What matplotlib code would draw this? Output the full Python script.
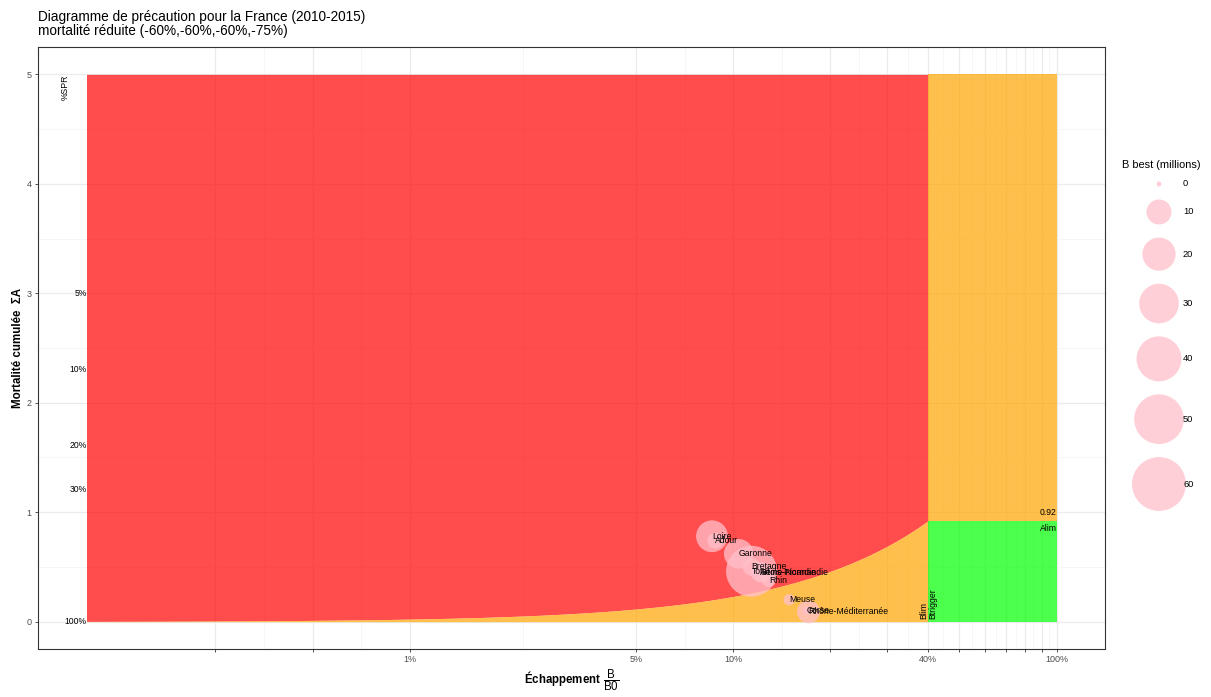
"""Diagramme de précaution (anguille) pour la France, 2010-2015."""

import matplotlib

matplotlib.use("Agg")
import matplotlib.pyplot as plt
import numpy as np
from matplotlib.ticker import NullFormatter

plt.rcParams["font.family"] = ["Liberation Sans", "DejaVu Sans"]
plt.rcParams["mathtext.fontset"] = "custom"
plt.rcParams["mathtext.rm"] = "Liberation Sans"
plt.rcParams["mathtext.bf"] = "Liberation Sans:bold"

# --- data -----------------------------------------------------------------
basins = ["Loire", "Adour", "Garonne", "Bretagne", "Total", "Artois-Picardie",
          "Seine-Normandie", "Rhin", "Meuse", "Corse", "Rhône-Méditerranée"]
escapement = [0.086, 0.088, 0.104, 0.114, 0.114, 0.121, 0.122, 0.129, 0.149, 0.169, 0.171]
mortality = [0.78, 0.74, 0.62, 0.50, 0.46, 0.45, 0.45, 0.38, 0.20, 0.10, 0.09]
b_best = [18, 3, 15, 4, 53, 3, 6, 2, 1, 0.3, 8]

spr_levels = [1.0, 0.3, 0.2, 0.1, 0.05]
spr_labels = ["100%", "30%", "20%", "10%", "5%"]

x_breaks = [0.0025, 0.005, 0.01, 0.05, 0.1, 0.2, 0.3, 0.4, 0.5, 0.6, 0.7, 0.8, 0.9, 1.0]
x_labels = ["", "", "1%", "5%", "10%", "", "", "40%", "", "", "", "", "", "100%"]
y_breaks = [0, 1, 2, 3, 4, 5]

legend_values = [0, 10, 20, 30, 40, 50, 60]

b_min = 0.001
blim = 0.4
btrigger = 0.4
alim = 0.92
a_max = 5.0


def diam_px(v):
    return 5 + 6.32 * np.sqrt(np.asarray(v, dtype=float))


def size_pt2(v):
    return (diam_px(v) * 0.72) ** 2


W, H = 1211, 697
fig = plt.figure(figsize=(W / 100, H / 100), dpi=100)
ax = fig.add_axes([38 / W, 48 / H, 1067 / W, 602 / H])

ax.set_xscale("log")
ax.set_xlim(10 ** -3.15, 10 ** 0.15)
ax.set_ylim(-0.25, 5.25)

# grid
minor_x = np.sqrt(np.array(x_breaks[:-1]) * np.array(x_breaks[1:]))
ax.set_xticks(x_breaks)
ax.set_xticklabels(x_labels)
ax.set_xticks(minor_x, minor=True)
ax.xaxis.set_minor_formatter(NullFormatter())
ax.set_yticks(y_breaks)
ax.set_yticks(np.array(y_breaks[:-1]) + 0.5, minor=True)
ax.grid(which="major", color="#EBEBEB", lw=0.9)
ax.grid(which="minor", color="#F3F3F3", lw=0.5)
ax.set_axisbelow(True)
ax.tick_params(which="minor", length=0)
ax.tick_params(which="major", length=2.5, width=0.6, color="#333333",
               labelsize=6.5, labelcolor="#4D4D4D", pad=2)
for sp in ax.spines.values():
    sp.set_color("#333333")
    sp.set_linewidth(0.8)

# zones
curve_x = np.geomspace(b_min, blim, 300)
curve_y = alim * curve_x / blim
ax.fill_between(curve_x, curve_y, a_max, color="red", alpha=0.7, lw=0)
ax.fill_between(curve_x, 0, curve_y, color="orange", alpha=0.7, lw=0)
ax.fill_between([blim, 1.0], alim, a_max, color="orange", alpha=0.7, lw=0)
ax.fill_between([blim, 1.0], 0, alim, color="lime", alpha=0.7, lw=0)

# reference labels
for p, lab in zip(spr_levels, spr_labels):
    ax.text(b_min, -np.log(p), lab, ha="right", va="center", fontsize=6.2)
ax.annotate("%SPR", (b_min, a_max), xytext=(-15, 0), textcoords="offset points",
            rotation=90, ha="center", va="top", fontsize=6.2)
ax.text(blim, 0.02, "Blim", rotation=90, ha="right", va="bottom", fontsize=6.2)
ax.text(btrigger, 0.02, "Btrigger", rotation=90, ha="left", va="bottom", fontsize=6.2)
ax.annotate("0.92", (1.0, alim), xytext=(0, 3), textcoords="offset points",
            ha="right", va="bottom", fontsize=6.2)
ax.annotate("Alim", (1.0, alim), xytext=(0, -2), textcoords="offset points",
            ha="right", va="top", fontsize=6.2)

# basins
ax.scatter(escapement, mortality, s=size_pt2(b_best), color="pink", alpha=0.75,
           lw=0, zorder=3)
for name, x, y in zip(basins, escapement, mortality):
    ax.text(x, y, name, ha="left", va="center", fontsize=6.2, zorder=4)

# titles
fig.text(38 / W, 1 - 10 / H,
         "Diagramme de précaution pour la France (2010-2015)\nmortalité réduite (-60%,-60%,-60%,-75%)",
         ha="left", va="top", fontsize=9.8, linespacing=1.0)
fig.text(18 / W, 1 - 348 / H, "Mortalité cumulée  ΣA", rotation=90,
         ha="center", va="center", fontsize=8.3, fontweight="bold")
fig.text(572 / W, 1 - 680 / H, r"$\mathbf{Échappement}\ \dfrac{\mathrm{B}}{\mathrm{B0}}$",
         ha="center", va="center", fontsize=8.3)

# size legend
lax = fig.add_axes([1115 / W, 0, 96 / W, 1])
lax.set_xlim(0, 96)
lax.set_ylim(H, 0)
lax.axis("off")
lax.text(7, 165, "B best (millions)", ha="left", va="center", fontsize=7.9)
d = diam_px(legend_values)
centers = 184 + np.concatenate([[0], np.cumsum((d[:-1] + d[1:]) / 2 + 13)])
lax.scatter(np.full(len(d), 44), centers, s=size_pt2(legend_values), color="pink",
            alpha=0.75, lw=0)
for v, c in zip(legend_values, centers):
    lax.text(68, c, str(v), ha="left", va="center", fontsize=6.7)

fig.savefig("out.png", dpi=100)
